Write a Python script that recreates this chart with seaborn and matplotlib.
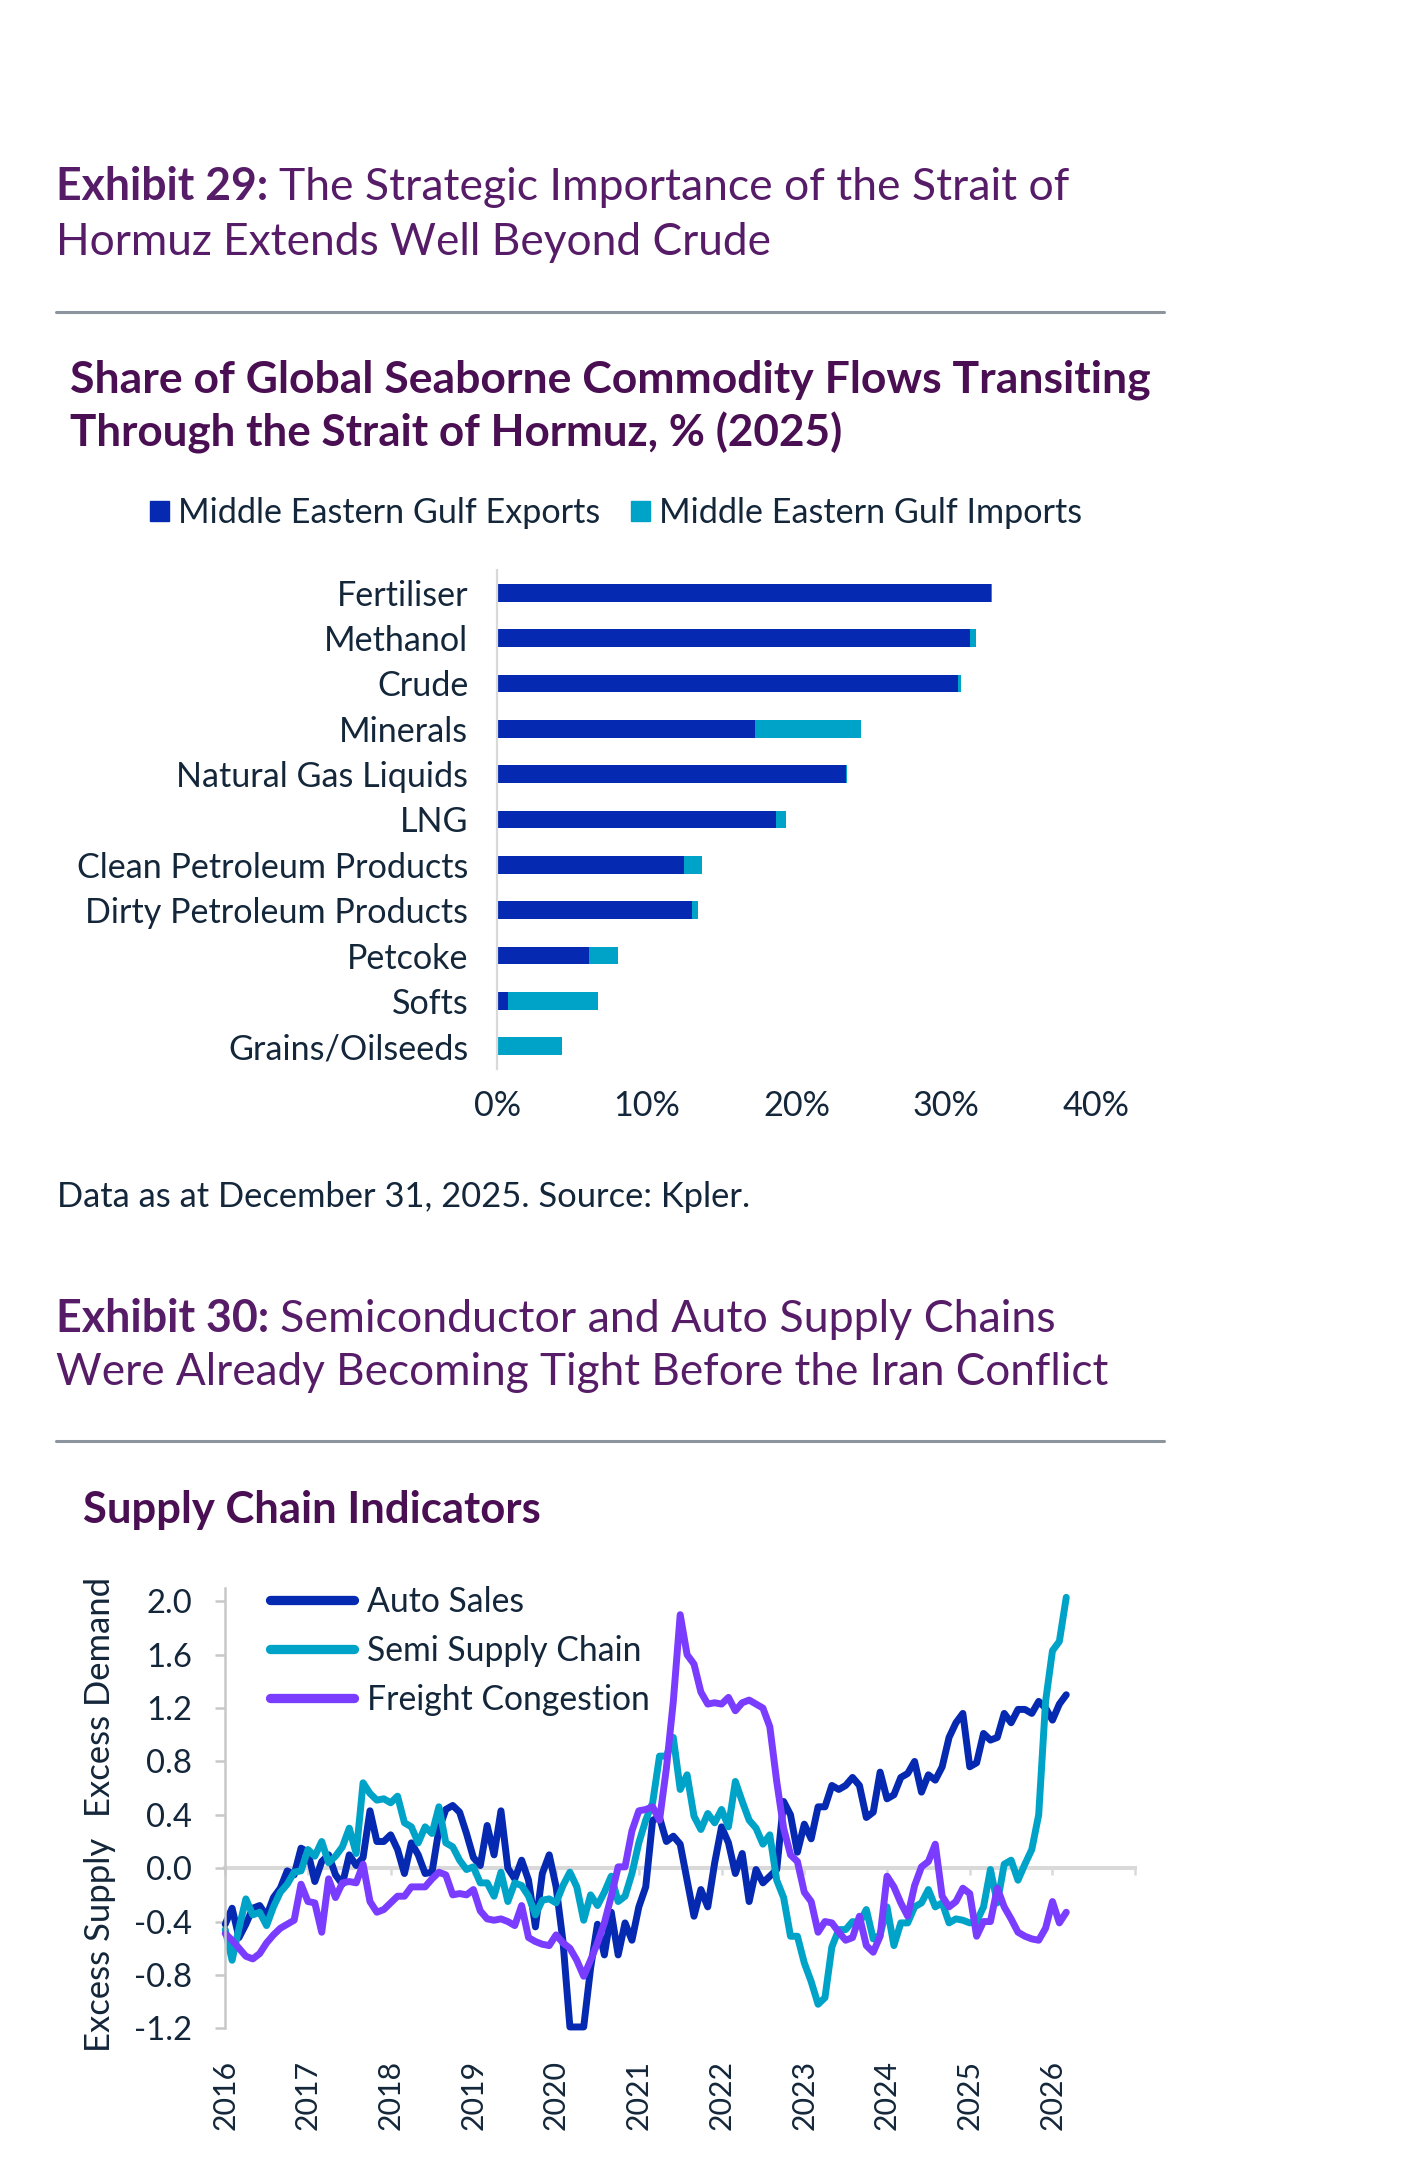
import numpy as np
import pandas as pd
import matplotlib
matplotlib.use("Agg")
import matplotlib.pyplot as plt
import seaborn as sns
from matplotlib.patches import Patch
from matplotlib.lines import Line2D

# ---------------- data : Exhibit 29 ----------------
CATEGORIES = ["Fertiliser", "Methanol", "Crude", "Minerals", "Natural Gas Liquids", "LNG",
              "Clean Petroleum Products", "Dirty Petroleum Products", "Petcoke", "Softs",
              "Grains/Oilseeds"]
EXPORTS = [33.0, 31.6, 30.8, 17.2, 23.3, 18.6, 12.5, 13.0, 6.1, 0.7, 0.0]
IMPORTS = [0.1, 0.4, 0.2, 7.1, 0.1, 0.7, 1.2, 0.4, 2.0, 6.0, 4.3]
BAR_TICKS = [0, 10, 20, 30, 40]
BAR_TICK_LABELS = ["0%", "10%", "20%", "30%", "40%"]
BAR_LEGEND = ["Middle Eastern Gulf Exports", "Middle Eastern Gulf Imports"]

# ---------------- data : Exhibit 30 (monthly, from Jan 2016) ----------------
START = "2016-01-01"
AUTO_SALES = [
    -0.42, -0.30, -0.52, -0.42, -0.30, -0.28, -0.36, -0.22, -0.15, -0.02,
    -0.05, 0.15, 0.12, -0.10, 0.05, 0.10, -0.05, -0.12, 0.10, 0.02,
    0.08, 0.43, 0.20, 0.20, 0.25, 0.14, -0.04, 0.19, 0.10, -0.04,
    -0.03, 0.29, 0.44, 0.47, 0.42, 0.26, 0.08, 0.02, 0.32, 0.10,
    0.43, 0.00, -0.08, 0.06, -0.09, -0.44, -0.04, 0.10, -0.14, -0.55,
    -1.19, -1.19, -1.19, -0.75, -0.42, -0.65, -0.33, -0.65, -0.41, -0.54,
    -0.29, -0.14, 0.36, 0.38, 0.20, 0.24, 0.18, -0.09, -0.36, -0.16,
    -0.29, 0.04, 0.31, 0.19, -0.04, 0.11, -0.25, -0.01, -0.11, -0.06,
    -0.01, 0.50, 0.40, 0.12, 0.33, 0.22, 0.46, 0.46, 0.62, 0.59,
    0.62, 0.68, 0.62, 0.38, 0.42, 0.72, 0.52, 0.55, 0.68, 0.71,
    0.80, 0.57, 0.70, 0.66, 0.76, 0.98, 1.09, 1.16, 0.76, 0.79,
    1.01, 0.96, 0.98, 1.16, 1.09, 1.19, 1.19, 1.16, 1.25, 1.20,
    1.11, 1.23, 1.30]
SEMI_SUPPLY = [
    -0.46, -0.69, -0.45, -0.23, -0.35, -0.33, -0.43, -0.29, -0.18, -0.12,
    -0.03, -0.02, 0.14, 0.09, 0.20, 0.04, 0.09, 0.16, 0.30, 0.11,
    0.64, 0.56, 0.51, 0.52, 0.49, 0.54, 0.34, 0.31, 0.19, 0.31,
    0.26, 0.46, 0.19, 0.16, 0.06, -0.01, 0.01, -0.11, -0.11, -0.21,
    -0.03, -0.25, -0.11, -0.13, -0.21, -0.35, -0.24, -0.23, -0.26, -0.13,
    -0.03, -0.14, -0.39, -0.20, -0.28, -0.18, -0.06, -0.25, -0.21, -0.04,
    0.19, 0.36, 0.49, 0.84, 0.84, 0.98, 0.59, 0.70, 0.39, 0.29,
    0.41, 0.34, 0.44, 0.31, 0.65, 0.50, 0.36, 0.30, 0.18, 0.25,
    -0.09, -0.22, -0.51, -0.51, -0.71, -0.85, -1.02, -0.97, -0.59, -0.46,
    -0.46, -0.40, -0.41, -0.31, -0.53, -0.50, -0.29, -0.58, -0.41, -0.41,
    -0.29, -0.26, -0.16, -0.29, -0.26, -0.41, -0.38, -0.39, -0.41, -0.40,
    -0.29, -0.01, -0.26, 0.03, 0.06, -0.09, 0.03, 0.14, 0.40, 1.25,
    1.63, 1.70, 2.03]
FREIGHT = [
    -0.49, -0.54, -0.60, -0.66, -0.68, -0.64, -0.56, -0.50, -0.45, -0.42,
    -0.39, -0.12, -0.25, -0.26, -0.48, -0.08, -0.22, -0.11, -0.10, -0.11,
    0.03, -0.25, -0.33, -0.31, -0.26, -0.21, -0.21, -0.14, -0.14, -0.14,
    -0.08, -0.03, -0.05, -0.20, -0.19, -0.20, -0.16, -0.32, -0.38, -0.39,
    -0.38, -0.40, -0.43, -0.28, -0.52, -0.55, -0.57, -0.58, -0.50, -0.56,
    -0.60, -0.69, -0.81, -0.69, -0.56, -0.41, -0.21, 0.01, 0.01, 0.28,
    0.43, 0.44, 0.46, 0.36, 0.75, 1.25, 1.90, 1.60, 1.53, 1.32,
    1.23, 1.24, 1.23, 1.28, 1.18, 1.24, 1.26, 1.23, 1.20, 1.06,
    0.65, 0.30, 0.10, 0.05, -0.18, -0.25, -0.48, -0.40, -0.41, -0.48,
    -0.54, -0.52, -0.36, -0.58, -0.63, -0.51, -0.06, -0.14, -0.26, -0.36,
    -0.13, 0.01, 0.05, 0.18, -0.21, -0.29, -0.25, -0.15, -0.19, -0.51,
    -0.40, -0.40, -0.15, -0.29, -0.38, -0.48, -0.51, -0.53, -0.54, -0.45,
    -0.25, -0.41, -0.33]
SERIES = ["Auto Sales", "Semi Supply Chain", "Freight Congestion"]
Y_TICKS = [-1.2, -0.8, -0.4, 0.0, 0.4, 0.8, 1.2, 1.6, 2.0]
Y_TICK_LABELS = ["-1.2", "-0.8", "-0.4", "0.0", "0.4", "0.8", "1.2", "1.6", "2.0"]
YEARS = list(range(2016, 2027))
YEAR_LABELS = [str(y) for y in YEARS]

# ---------------- styles ----------------
BLUE = "#0529B0"
TEAL = "#00A3C8"
PURPLE = "#7A3CFF"
EX_COLOR = "#561C67"
TITLE_COLOR = "#4A0E52"
TEXT = "#13263A"
RULE = "#8C959D"

sns.set_theme(style="white")
plt.rcParams["font.family"] = ["Lato", "DejaVu Sans"]

W, H = 1401, 2181
fig = plt.figure(figsize=(W / 100, H / 100), dpi=100)
R = fig.canvas.get_renderer()


def fy(py):
    return 1 - py / H


def text_w(s, size, weight="normal"):
    t = fig.text(0, 0, s, fontsize=size, fontweight=weight)
    bb = t.get_window_extent(renderer=R)
    t.remove()
    return bb.width, bb.height


def fit_pt(s, target, weight="normal"):
    w, _ = text_w(s, 20, weight)
    return 20 * target / w


X0 = 56
GAP = 0.24


def heading_size(bold, rest, target):
    wb, _ = text_w(bold, 20, "bold")
    wr, _ = text_w(rest, 20)
    return 20 * target / (wb + wr + 20 * 100 / 72 * GAP)


def heading(y, bold, rest, size):
    t1 = fig.text(X0 / W, fy(y), bold, fontsize=size, fontweight="bold",
                  color=EX_COLOR, va="baseline")
    w1 = t1.get_window_extent(renderer=R).width
    fig.text((X0 + w1 + size * 100 / 72 * GAP) / W, fy(y), rest, fontsize=size,
             color=EX_COLOR, va="baseline")


def line(x, y, s, width, weight="normal", color=EX_COLOR):
    fig.text(x / W, fy(y), s, fontsize=fit_pt(s, width, weight), fontweight=weight,
             color=color, va="baseline")


# ---------- exhibit 29 headings ----------
heading(200, "Exhibit 29:", "The Strategic Importance of the Strait of",
        heading_size("Exhibit 29:", "The Strategic Importance of the Strait of", 1016))
line(X0, 255, "Hormuz Extends Well Beyond Crude", 717)
fig.add_artist(Line2D([X0 / W, 1163.5 / W], [fy(312)] * 2, color=RULE, lw=2.2))

line(70, 393, "Share of Global Seaborne Commodity Flows Transiting", 1080, "bold", TITLE_COLOR)
line(70, 447, "Through the Strait of Hormuz, % (2025)", 772, "bold", TITLE_COLOR)

# ---------- bar chart ----------
df_bar = pd.DataFrame({"category": CATEGORIES, "exports": EXPORTS, "imports": IMPORTS})
df_bar["total"] = df_bar["exports"] + df_bar["imports"]

ax1 = fig.add_axes([497.3 / W, fy(1069), 598.3 / W, (1069 - 570) / H])
sns.barplot(data=df_bar, x="total", y="category", order=CATEGORIES, orient="h",
            color=TEAL, saturation=1, width=0.39, errorbar=None, linewidth=0, ax=ax1)
sns.barplot(data=df_bar, x="exports", y="category", order=CATEGORIES, orient="h",
            color=BLUE, saturation=1, width=0.39, errorbar=None, linewidth=0, ax=ax1)
ax1.set_xlim(0, 40)
ax1.set_ylim(10.5, -0.5)
ax1.set_xlabel("")
ax1.set_ylabel("")
cat_size = fit_pt("Clean Petroleum Products", 393)
ax1.set_xticks(BAR_TICKS, labels=BAR_TICK_LABELS)
ax1.tick_params(axis="x", length=0, pad=15, labelsize=cat_size, labelcolor=TEXT)
ax1.tick_params(axis="y", length=0, pad=20.9, labelsize=cat_size, labelcolor=TEXT)
for s in ["top", "right", "bottom"]:
    ax1.spines[s].set_visible(False)
ax1.spines["left"].set_color("#D9D9D9")
ax1.spines["left"].set_linewidth(1.6)
ax1.grid(False)

leg_size = fit_pt(BAR_LEGEND[0], 424)
lpx = leg_size * 100 / 72
ax1.legend(handles=[Patch(color=BLUE, label=BAR_LEGEND[0]),
                    Patch(color=TEAL, label=BAR_LEGEND[1])],
           loc="center left", bbox_to_anchor=(150 / W, fy(513)),
           bbox_transform=fig.transFigure, ncol=2, frameon=False,
           borderpad=0, borderaxespad=0, fontsize=leg_size,
           handlelength=19 / lpx, handleheight=19 / lpx,
           handletextpad=9 / lpx, columnspacing=31 / lpx, labelcolor=TEXT)

foot_size = fit_pt("Data as at December 31, 2025.", 473)
fig.text(56.7 / W, fy(1206.7), "Data as at December 31, 2025. Source: Kpler.",
         fontsize=foot_size, color=TEXT, va="baseline")

# ---------- exhibit 30 headings ----------
heading(1332, "Exhibit 30:", "Semiconductor and Auto Supply Chains",
        heading_size("Exhibit 30:", "Semiconductor and Auto Supply Chains", 1004))
line(X0, 1385, "Were Already Becoming Tight Before the Iran Conflict", 1053)
fig.add_artist(Line2D([X0 / W, 1163.5 / W], [fy(1441)] * 2, color=RULE, lw=2.2))
line(82.6, 1523, "Supply Chain Indicators", 458, "bold", TITLE_COLOR)

# ---------- line chart ----------
dates = pd.date_range(START, periods=len(AUTO_SALES), freq="MS")
t = dates.year + (dates.month - 1) / 12.0
n = len(t)
df_line = pd.DataFrame({
    "t": np.tile(t, 3),
    "value": AUTO_SALES + SEMI_SUPPLY + FREIGHT,
    "series": np.repeat(SERIES, n),
})
palette = dict(zip(SERIES, [BLUE, TEAL, PURPLE]))

ax2 = fig.add_axes([225.2 / W, fy(2028.3), (1135.2 - 225.2) / W, (2028.3 - 1588) / H])
sns.lineplot(data=df_line, x="t", y="value", hue="series", hue_order=SERIES,
             palette=palette, linewidth=5.0, estimator=None, legend=False, ax=ax2,
             solid_capstyle="round", solid_joinstyle="round", clip_on=False)
ax2.set_xlim(2016, 2027)
ax2.set_ylim(-1.2, 2.1)
ax2.set_xlabel("")
ax2.set_ylabel("")
ax2.grid(False)
for s in ["top", "right"]:
    ax2.spines[s].set_visible(False)
ax2.spines["left"].set_color("#C8C8C8")
ax2.spines["left"].set_linewidth(1.8)
ax2.spines["bottom"].set_position(("data", 0))
ax2.spines["bottom"].set_color("#D9D9D9")
ax2.spines["bottom"].set_linewidth(2.9)
ax2.spines["bottom"].set_zorder(0.5)

ytick_size = fit_pt("-0.8", 58)
ax2.set_yticks(Y_TICKS, labels=Y_TICK_LABELS)
ax2.tick_params(axis="y", left=True, direction="out", length=7, width=1.8,
                color="#C8C8C8", pad=17, labelsize=ytick_size, labelcolor=TEXT)
ax2.set_xticks(list(range(2016, 2028)))
ax2.tick_params(axis="x", bottom=True, direction="out", length=5, width=1.8,
                color="#D9D9D9", labelbottom=False)

sec = ax2.secondary_xaxis("bottom")
xtick_size = fit_pt("2016", 70)
sec.set_xticks(YEARS, labels=YEAR_LABELS)
sec.tick_params(axis="x", length=0, pad=23, labelsize=xtick_size, labelcolor=TEXT,
                labelrotation=90)
sec.spines["bottom"].set_visible(False)

ylab_size = fit_pt("Excess Demand", 240)
fig.text(100.4 / W, fy(1696.7), "Excess Demand", rotation=90, ha="center", va="center",
         fontsize=ylab_size, color=TEXT)
fig.text(100.4 / W, fy(1945), "Excess Supply", rotation=90, ha="center", va="center",
         fontsize=ylab_size, color=TEXT)

lg_size = fit_pt("Semi Supply Chain", 276)
gpx = lg_size * 100 / 72
_, th = text_w("Freight Congestion", lg_size)
ax2.legend(handles=[Line2D([], [], color=c, lw=6.7, solid_capstyle="round")
                    for c in [BLUE, TEAL, PURPLE]],
           labels=SERIES, loc="center left", bbox_to_anchor=(270 / W, fy(1651)),
           bbox_transform=fig.transFigure, frameon=False, borderpad=0,
           borderaxespad=0, fontsize=lg_size, handlelength=84 / gpx,
           handletextpad=13 / gpx, labelspacing=max(0.0, (49 - th) / gpx),
           labelcolor=TEXT)

fig.savefig("out.png", dpi=100, facecolor="white")
